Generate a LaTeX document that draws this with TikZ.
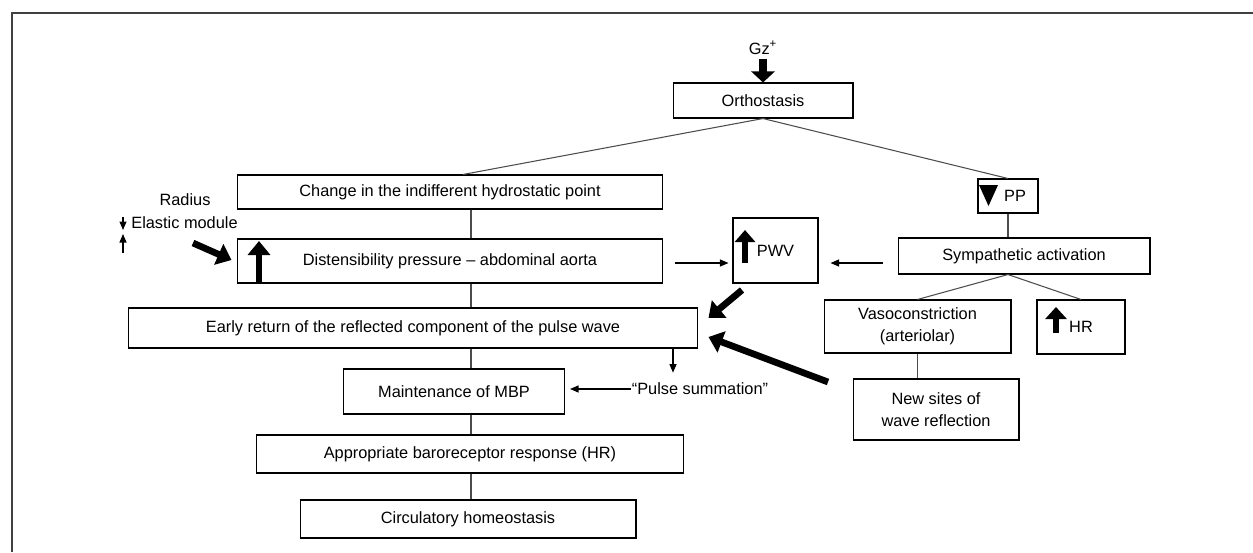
\documentclass[tikz,border=0pt]{standalone}
\usepackage{fontspec}
\setmainfont{Liberation Sans}
\usetikzlibrary{positioning,arrows.meta}

\begin{document}
\begin{tikzpicture}[
  x=0.02cm, y=-0.02cm,
  every node/.style={font=\fontsize{9.3}{12.5}\selectfont},
  box/.style={draw, line width=0.6pt, inner sep=0pt, align=center},
  link/.style={draw=black!70, line width=0.6pt},
  thinarrow/.style={-{Triangle[length=0.17cm,width=0.14cm]}, line width=0.6pt},
  fatarrow/.style={-{Triangle[length=0.28cm,width=0.44cm]}, line width=3.8pt},
  lbl/.style={inner sep=0pt}
]
\useasboundingbox (0,0) rectangle (1253,552);
% frame (cropped: top and left only)
\draw[black!75, line width=1.1pt] (12,552) -- (12,13) -- (1253,13);

% main column
\node[lbl] (gz) at (763,48) {Gz\textsuperscript{+}};
\node[box, minimum width=3.6cm, minimum height=0.7cm] (orth) at (763,100.5) {Orthostasis};
\node[box, minimum width=8.52cm, minimum height=0.68cm] (change) at (450,192) {Change in the indifferent hydrostatic point};
\node[box, minimum width=8.52cm, minimum height=0.88cm] (dist) at (450,261) {Distensibility pressure -- abdominal aorta};
\node[box, minimum width=11.4cm, minimum height=0.8cm] (early) at (413,328) {Early return of the reflected component of the pulse wave};
\node[box, minimum width=4.42cm, minimum height=0.9cm] (mbp) at (454,391.5) {Maintenance of MBP};
\node[box, minimum width=8.54cm, minimum height=0.76cm] (baro) at (470,454) {Appropriate baroreceptor response (HR)};
\node[box, minimum width=6.72cm, minimum height=0.76cm] (homeo) at (468,519) {Circulatory homeostasis};
\node[lbl] (pulse) at (700,389) {``Pulse summation''};

% left labels
\node[lbl] (radius) at (185,200) {Radius};
\node[lbl] (elastic) at (184.5,223) {Elastic module};
\coordinate (rdA) at (123,217);
\coordinate (rdB) at (123,230);
\coordinate (emA) at (123,253);
\coordinate (emB) at (123,234);

% right branch
\node[box, minimum width=1.7cm, minimum height=1.3cm] (pwv) at (775.5,250.5) {PWV};
\node[box, minimum width=1.2cm, minimum height=0.68cm] (pp) at (1008,196) {\hspace*{0.28cm}PP};
\node[box, minimum width=5.04cm, minimum height=0.72cm] (symp) at (1024,256) {Sympathetic activation};
\node[box, minimum width=3.74cm, minimum height=1.06cm] (vaso) at (917.5,326.5) {Vasoconstriction\\(arteriolar)};
\node[box, minimum width=1.76cm, minimum height=1.08cm] (hr) at (1081,327) {HR};
\node[box, minimum width=3.32cm, minimum height=1.22cm] (sites) at (936,409.5) {New sites of\\wave reflection};

% spine coordinates
\coordinate (sp0) at (463,0);
\coordinate (sp1) at (471,0);
\coordinate (sp3) at (673,0);
\coordinate (ar) at (0,263);

% plain links
\draw[link] (orth.south) -- (change.north -| sp0);
\draw[link] (orth.south) -- (pp.north);
\draw[link] (change.south -| sp1) -- (dist.north -| sp1);
\draw[link] (dist.south -| sp1) -- (early.north -| sp1);
\draw[link] (early.south -| sp1) -- (mbp.north -| sp1);
\draw[link] (mbp.south -| sp1) -- (baro.north -| sp1);
\draw[link] (baro.south -| sp1) -- (homeo.north -| sp1);
\draw[link] (pp.south) -- (symp.north -| pp);
\draw[link] (symp.south -| pp) -- (vaso.north);
\draw[link] (symp.south -| pp) -- (hr.north);
\draw[link] (vaso.south) -- (sites.north -| vaso);

% thin arrows
\draw[thinarrow, shorten <=0.24cm, shorten >=0.08cm] (dist.east |- ar) -- (pwv.west |- ar);
\draw[thinarrow, shorten <=0.3cm, shorten >=0.24cm] (symp.west |- ar) -- (pwv.east |- ar);
\draw[thinarrow, shorten >=0.2cm] (early.south -| sp3) -- (pulse.north -| sp3);
\draw[thinarrow, shorten <=0.02cm, shorten >=0.1cm] (pulse.west) -- (mbp.east |- pulse);
\draw[thinarrow] (rdA) -- (rdB);
\draw[thinarrow] (emA) -- (emB);

% bold arrows
\draw[fatarrow, -{Triangle[length=0.22cm,width=0.46cm]}, line width=4pt] (gz.south) ++(0,4) coordinate (gzA) (gzA) -- (orth.north);
\draw[fatarrow] (193,243) coordinate (radA) -- ([xshift=-0.1cm]dist.west |- 0,260);
\draw[fatarrow, shorten >=0.02cm] (259,283) coordinate (dsA) -- (259,240) coordinate (dsB);
\draw[fatarrow, -{Triangle[length=0.24cm,width=0.4cm]}, line width=3.6pt] (745,263) coordinate (pwA) -- (745,230) coordinate (pwB);
\draw[fatarrow, -{Triangle[length=0.24cm,width=0.42cm]}, line width=3.2pt] (1056,333) coordinate (hrA) -- (1056,307) coordinate (hrB);
\fill (979,185) -- (998,185) -- (988.5,206) -- cycle;
\draw[fatarrow] (742,290) coordinate (pwC) -- ([xshift=0.2cm]early.east |- 0,318);
\draw[fatarrow] (828,382) coordinate (stA) -- ([xshift=0.2cm]early.east |- 0,337);
\end{tikzpicture}
\end{document}
